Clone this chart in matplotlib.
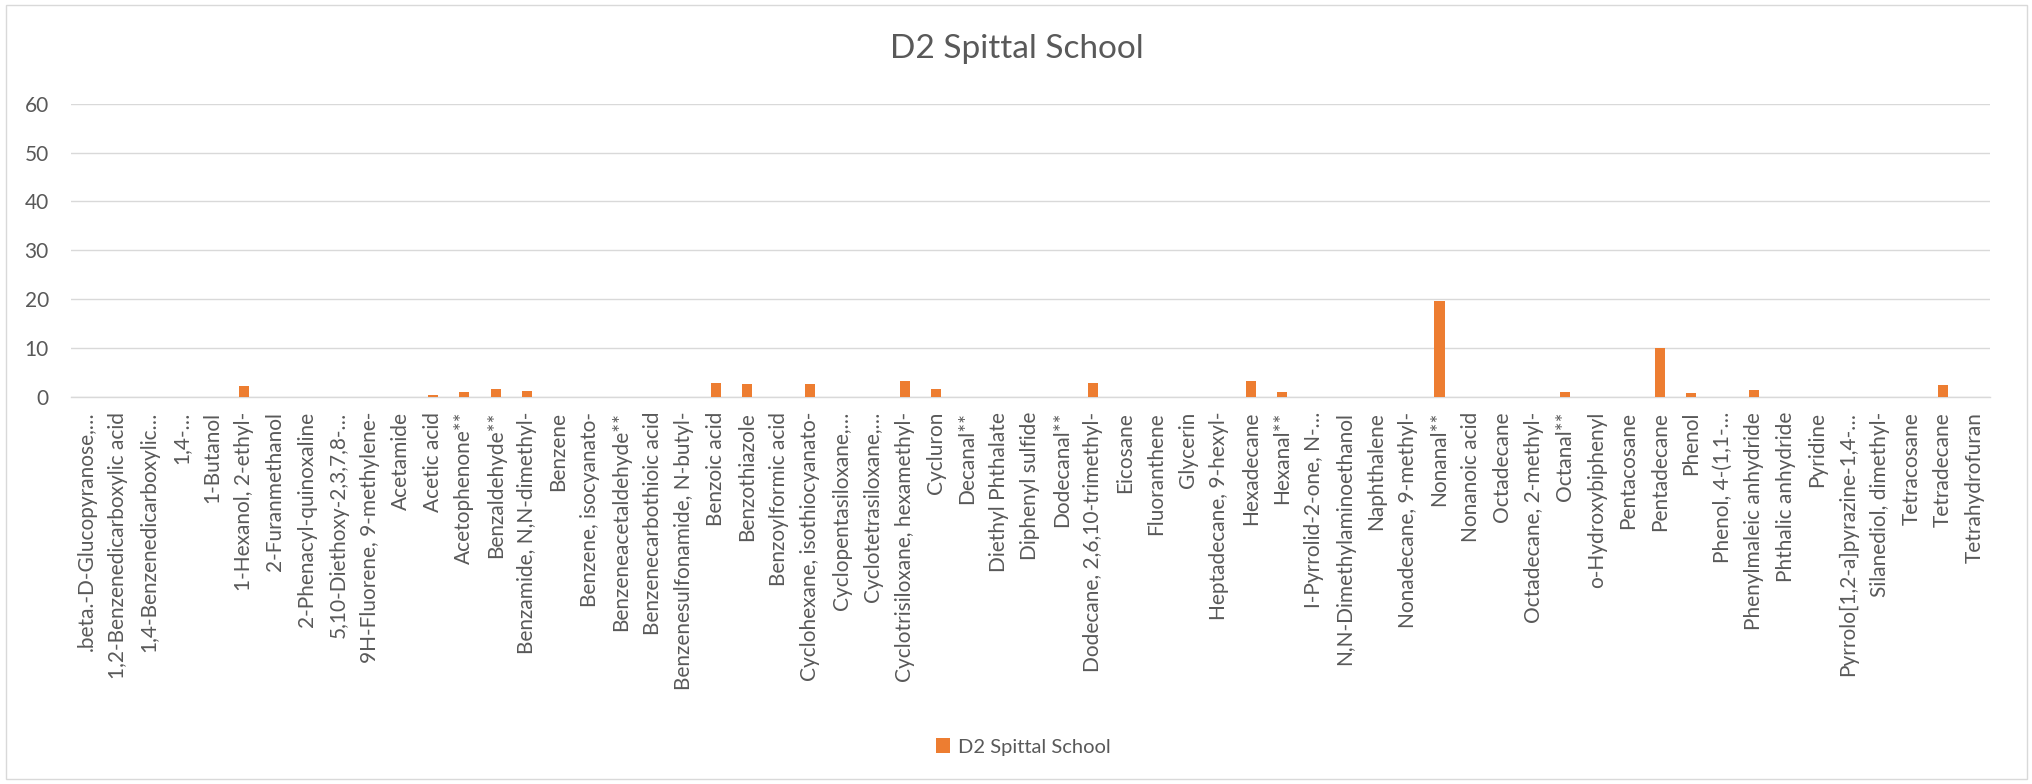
import matplotlib
matplotlib.use("Agg")
import matplotlib.pyplot as plt
from matplotlib.patches import Rectangle

categories = [
    ".beta.-D-Glucopyranose,…", "1,2-Benzenedicarboxylic acid", "1,4-Benzenedicarboxylic…",
    "1,4-…", "1-Butanol", "1-Hexanol, 2-ethyl-", "2-Furanmethanol", "2-Phenacyl-quinoxaline",
    "5,10-Diethoxy-2,3,7,8-…", "9H-Fluorene, 9-methylene-", "Acetamide", "Acetic acid",
    "Acetophenone**", "Benzaldehyde**", "Benzamide, N,N-dimethyl-", "Benzene",
    "Benzene, isocyanato-", "Benzeneacetaldehyde**", "Benzenecarbothioic acid",
    "Benzenesulfonamide, N-butyl-", "Benzoic acid", "Benzothiazole", "Benzoylformic acid",
    "Cyclohexane, isothiocyanato-", "Cyclopentasiloxane,…", "Cyclotetrasiloxane,…",
    "Cyclotrisiloxane, hexamethyl-", "Cycluron", "Decanal**", "Diethyl Phthalate",
    "Diphenyl sulfide", "Dodecanal**", "Dodecane, 2,6,10-trimethyl-", "Eicosane",
    "Fluoranthene", "Glycerin", "Heptadecane, 9-hexyl-", "Hexadecane", "Hexanal**",
    "I-Pyrrolid-2-one, N-…", "N,N-Dimethylaminoethanol", "Naphthalene",
    "Nonadecane, 9-methyl-", "Nonanal**", "Nonanoic acid", "Octadecane",
    "Octadecane, 2-methyl-", "Octanal**", "o-Hydroxybiphenyl", "Pentacosane",
    "Pentadecane", "Phenol", "Phenol, 4-(1,1-…", "Phenylmaleic anhydride",
    "Phthalic anhydride", "Pyridine", "Pyrrolo[1,2-a]pyrazine-1,4-…",
    "Silanediol, dimethyl-", "Tetracosane", "Tetradecane", "Tetrahydrofuran",
]

values = [
    0, 0, 0, 0, 0, 2.1, 0, 0, 0, 0, 0, 0.45,
    0.9, 1.55, 1.1, 0, 0, 0, 0, 0,
    2.9, 2.6, 0, 2.5, 0, 0, 3.3, 1.5, 0, 0,
    0, 0, 2.9, 0, 0, 0, 0, 3.3, 1.0,
    0, 0, 0, 0, 19.6, 0, 0, 0, 1.0, 0, 0,
    10.0, 0.75, 0, 1.4, 0, 0, 0, 0, 0, 2.3, 0,
]

series_name = "D2 Spittal School"
yticks = [0, 10, 20, 30, 40, 50, 60]

plt.rcParams['font.family'] = ['Lato', 'DejaVu Sans']
TXT = "#595959"
GRID = "#D9D9D9"
ORANGE = "#ED7D31"

W, H = 2033, 784
fig = plt.figure(figsize=(W / 100, H / 100), dpi=100)
fig.patches.append(Rectangle((6 / W, 5 / H), (2027 - 6) / W, (779 - 5) / H,
                             transform=fig.transFigure, fill=False,
                             edgecolor=GRID, linewidth=1.0))

left, right = 71, 1990
y0, ytop = 396.7, 103.7
ax = fig.add_axes([left / W, 1 - y0 / H, (right - left) / W, (y0 - ytop) / H])

x = list(range(len(categories)))
bars = ax.bar(x, values, width=0.32, color=ORANGE, zorder=3, label=series_name)

ax.set_xlim(-0.5, len(categories) - 0.5)
ax.set_ylim(0, 60)
ax.set_yticks(yticks)
ax.set_yticklabels([str(t) for t in yticks])
ax.set_xticks(x)
ax.set_xticklabels(categories, rotation=90, va='top', ha='center')
ax.tick_params(axis='x', length=0, pad=11, colors=TXT, labelsize=15)
ax.tick_params(axis='y', length=0, pad=16, colors=TXT, labelsize=15)
for s in ['top', 'right', 'left']:
    ax.spines[s].set_visible(False)
ax.spines['bottom'].set_color(GRID)
ax.spines['bottom'].set_linewidth(1.0)
ax.grid(axis='y', color=GRID, linewidth=1.0, zorder=0)
ax.set_axisbelow(True)

fig.text(0.5, 1 - 49 / H, series_name, ha='center', va='center',
         fontsize=24, color=TXT)

fig.legend(handles=[bars], labels=[series_name], loc='center',
           bbox_to_anchor=(1023 / W, 1 - 747 / H), frameon=False,
           handlelength=0.7, handleheight=0.7, handletextpad=0.4,
           fontsize=14.5, labelcolor=TXT)

fig.savefig("out.png", dpi=100)
